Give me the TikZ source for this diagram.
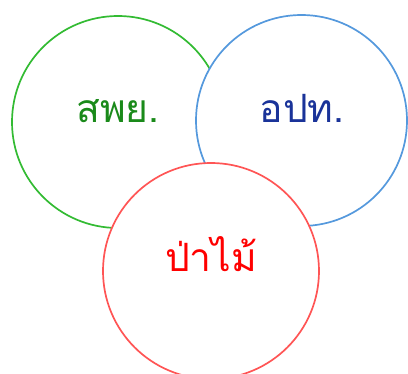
\documentclass[tikz,border=0pt]{standalone}
\usepackage{fontspec}
\newfontfamily\thaifont[Script=Thai]{Loma}
\definecolor{gstroke}{HTML}{33BB33}
\definecolor{gtext}{HTML}{1A8A1A}
\definecolor{bstroke}{HTML}{5599DD}
\definecolor{btext}{HTML}{1A3399}
\definecolor{rstroke}{HTML}{FF5555}
\definecolor{rtext}{HTML}{FF0000}
\tikzset{
  venn/.style={circle, fill=white, line width=1.7pt, inner sep=0pt},
  lbl/.style={font=\thaifont\fontsize{39}{46}\selectfont, inner sep=0pt, anchor=base}
}
\begin{document}
\begin{tikzpicture}[x=1pt,y=-1pt]
\useasboundingbox (0,0) rectangle (408,374);
\node[venn, draw=gstroke, minimum size=212pt] (g) at (118,122) {};
\node[venn, draw=bstroke, minimum size=211pt] (b) at (301.5,120.5) {};
\node[venn, draw=rstroke, minimum size=216pt] (r) at (211,271) {};
\node[lbl, text=gtext] (gl) at (118,123) {สพย.};
\node[lbl, text=btext] (bl) at (302,123) {อปท.};
\node[lbl, text=rtext] (rl) at (211,272) {ป่าไม้};
\end{tikzpicture}
\end{document}
